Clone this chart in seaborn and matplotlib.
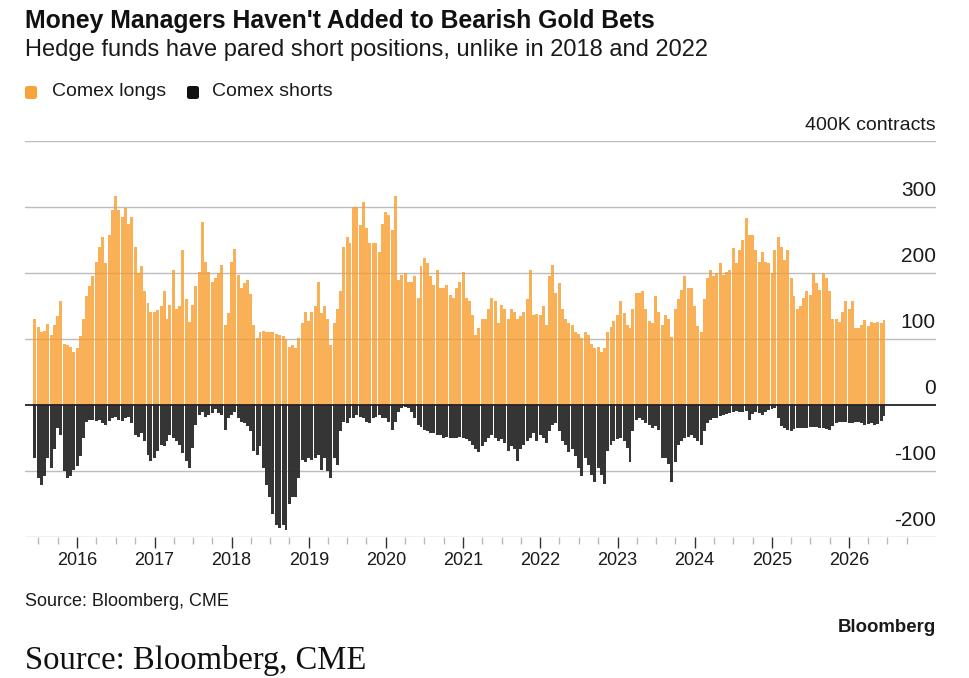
import matplotlib
matplotlib.use("Agg")
import matplotlib.pyplot as plt
import matplotlib.dates as mdates
import matplotlib.transforms as mtransforms
from matplotlib.patches import FancyBboxPatch
import numpy as np
import pandas as pd
import seaborn as sns

# ---------------- data (thousand contracts, semi-monthly readings) ----------------
longs_2015 = [131, 118, 110, 112, 122, 106, 121, 135, 158, 93, 91, 88, 80]
longs_2016 = [86, 105, 131, 165, 180, 195, 217, 240, 255, 215, 258, 295, 316, 295, 285, 298, 275, 285, 240, 200, 210, 172, 155, 141]
longs_2017 = [141, 144, 150, 172, 131, 152, 205, 146, 150, 235, 160, 126, 152, 180, 202, 278, 217, 202, 187, 192, 200, 212, 121, 140]
longs_2018 = [217, 237, 197, 177, 185, 190, 168, 121, 101, 111, 112, 110, 111, 110, 108, 106, 104, 100, 88, 91, 86, 101, 125, 141]
longs_2019 = [128, 141, 150, 187, 140, 150, 131, 91, 125, 146, 172, 240, 255, 245, 300, 300, 273, 308, 268, 245, 245, 245, 232, 275]
longs_2020 = [293, 288, 265, 316, 190, 197, 200, 187, 187, 195, 162, 210, 222, 215, 195, 182, 205, 177, 177, 182, 167, 162, 177, 187]
longs_2021 = [202, 162, 157, 136, 106, 116, 131, 131, 146, 162, 157, 124, 152, 146, 131, 146, 141, 131, 135, 141, 160, 205, 136, 138]
longs_2022 = [136, 150, 121, 195, 212, 170, 185, 145, 131, 125, 121, 111, 108, 101, 111, 106, 92, 86, 88, 81, 86, 111, 118, 128]
longs_2023 = [136, 158, 140, 121, 116, 145, 170, 170, 172, 146, 128, 125, 165, 141, 121, 136, 131, 103, 145, 160, 175, 195, 177, 177]
longs_2024 = [150, 120, 111, 160, 192, 205, 195, 200, 215, 197, 202, 205, 238, 215, 235, 250, 283, 258, 258, 235, 217, 232, 217, 215]
longs_2025 = [200, 235, 255, 240, 220, 235, 192, 165, 146, 150, 162, 172, 167, 200, 185, 175, 200, 192, 172, 131, 130, 126, 141, 157]
longs_2026 = [146, 157, 116, 116, 121, 129, 119, 126, 124, 126, 124, 129]

shorts_2015 = [-81, -111, -121, -108, -81, -96, -66, -35, -45, -100, -111, -108, -98]
shorts_2016 = [-92, -78, -50, -25, -22, -22, -24, -22, -28, -30, -24, -20, -18, -22, -24, -20, -18, -28, -45, -48, -42, -55, -75, -85]
shorts_2017 = [-80, -70, -60, -62, -55, -45, -50, -55, -60, -72, -85, -96, -65, -30, -15, -10, -18, -15, -12, -6, -12, -15, -38, -20]
shorts_2018 = [-15, -10, -20, -25, -28, -32, -40, -70, -75, -62, -96, -121, -140, -165, -182, -187, -182, -189, -150, -140, -140, -111, -84, -86]
shorts_2019 = [-81, -84, -80, -76, -98, -81, -100, -111, -81, -91, -40, -25, -28, -20, -20, -15, -18, -20, -26, -28, -20, -18, -15, -20]
shorts_2020 = [-20, -25, -38, -25, -10, -5, -3, -5, -10, -20, -30, -34, -38, -40, -42, -42, -45, -46, -50, -48, -50, -50, -50, -49]
shorts_2021 = [-50, -52, -55, -60, -66, -71, -62, -56, -50, -46, -50, -55, -52, -58, -70, -62, -66, -85, -66, -61, -55, -50, -42, -55]
shorts_2022 = [-45, -50, -58, -40, -30, -28, -40, -55, -61, -71, -66, -78, -95, -108, -81, -91, -106, -116, -96, -106, -119, -70, -61, -55]
shorts_2023 = [-52, -50, -55, -65, -86, -40, -22, -20, -22, -28, -30, -35, -32, -38, -80, -81, -90, -116, -86, -61, -55, -50, -48, -45]
shorts_2024 = [-50, -55, -60, -40, -28, -22, -20, -20, -16, -15, -14, -12, -10, -9, -10, -10, -9, -22, -14, -11, -12, -15, -10, -8]
shorts_2025 = [-6, -4, -20, -32, -35, -38, -40, -37, -35, -35, -35, -35, -34, -33, -34, -35, -35, -36, -38, -32, -28, -25, -25, -26]
shorts_2026 = [-27, -28, -26, -25, -27, -30, -29, -28, -30, -29, -24, -16]

years = list(range(2016, 2027))
year_labels = [str(y) for y in years]
ytick_values = [-200, -100, 0, 100, 200, 300, 400]
ytick_labels = ["-200", "-100", "0", "100", "200", "300", "400K contracts"]

longs = (longs_2015 + longs_2016 + longs_2017 + longs_2018 + longs_2019 + longs_2020
         + longs_2021 + longs_2022 + longs_2023 + longs_2024 + longs_2025 + longs_2026)
shorts = (shorts_2015 + shorts_2016 + shorts_2017 + shorts_2018 + shorts_2019 + shorts_2020
          + shorts_2021 + shorts_2022 + shorts_2023 + shorts_2024 + shorts_2025 + shorts_2026)
dates = pd.date_range("2015-06-15", periods=len(longs), freq="SMS")
df = pd.DataFrame({"x": mdates.date2num(dates), "longs": longs, "shorts": shorts})

# ---------------- style ----------------
sns.set_theme(style="white")
plt.rcParams["font.family"] = ["Liberation Sans", "DejaVu Sans"]

ORANGE = "#F9B056"
DARK = "#353535"
TXT = "#1a1a1a"

W, H = 969, 678
fig = plt.figure(figsize=(W / 100, H / 100), dpi=100)
fig.patch.set_facecolor("white")

ax_left, ax_right, ax_top, ax_bot = 25, 936, 141, 537
ax = fig.add_axes([ax_left / W, 1 - ax_bot / H, (ax_right - ax_left) / W, (ax_bot - ax_top) / H])

sns.barplot(data=df, x="x", y="longs", native_scale=True, orient="x", color=ORANGE,
            saturation=1, width=1.0, linewidth=0, errorbar=None, ax=ax, zorder=2)
sns.barplot(data=df, x="x", y="shorts", native_scale=True, orient="x", color=DARK,
            saturation=1, width=1.0, linewidth=0, errorbar=None, ax=ax, zorder=2)

ax.set_ylim(-200, 400)
xl = mdates.date2num(pd.Timestamp("2015-04-29"))
xr = mdates.date2num(pd.Timestamp("2027-02-16"))
ax.set_xlim(xl, xr)

for s in ax.spines.values():
    s.set_visible(False)

# gridlines
for v in ytick_values:
    if v == 0:
        continue
    ax.axhline(v, color="#cccccc", lw=1.0, zorder=0)
    ax.axhline(v, color="#000000", lw=1.0, alpha=0.07, zorder=3)
ax.axhline(0, color="#222222", lw=1.3, zorder=4)

ax.set_yticks(ytick_values)
ax.set_yticklabels([])
ax.tick_params(axis="y", length=0)
ax.set_ylabel("")
ax.set_xlabel("")

# y labels drawn above the gridlines at the right edge
offset = mtransforms.offset_copy(ax.get_yaxis_transform(), fig=fig, x=0, y=5, units="points")
for v, lab in zip(ytick_values, ytick_labels):
    size = 14 if v == 400 else 15
    ax.text(1.0, v, lab, transform=offset, ha="right", va="bottom", fontsize=size, color=TXT)

# x ticks
major = [mdates.date2num(pd.Timestamp(f"{y}-01-01")) for y in years]
minor = []
for y in range(2015, 2027):
    for m in (4, 7, 10):
        t = mdates.date2num(pd.Timestamp(f"{y}-{m:02d}-01"))
        if xl < t < xr:
            minor.append(t)
ax.set_xticks(major)
ax.set_xticklabels(year_labels, fontsize=13, color=TXT)
ax.set_xticks(minor, minor=True)
ax.tick_params(axis="x", which="major", length=8, width=1, color="#333333", pad=3, bottom=True)
ax.tick_params(axis="x", which="minor", length=5, width=1, color="#bbbbbb", bottom=True)

# ---------------- texts ----------------
def fy(py):
    return 1 - py / H

fig.text(25 / W, fy(21), "Money Managers Haven't Added to Bearish Gold Bets",
         fontsize=17.8, fontweight="bold", color="#111111", ha="left", va="center")
fig.text(25 / W, fy(50), "Hedge funds have pared short positions, unlike in 2018 and 2022",
         fontsize=17, color=TXT, ha="left", va="center")

# legend
for x0, col, lab, tx in [(25, "#F7A33A", "Comex longs", 52), (187, "#111111", "Comex shorts", 212)]:
    patch = FancyBboxPatch((x0 / W, fy(99)), 12 / W, 13 / H,
                           boxstyle="round,pad=0,rounding_size=0.003",
                           transform=fig.transFigure, facecolor=col, edgecolor="none")
    fig.patches.append(patch)
    fig.text(tx / W, fy(92), lab, fontsize=14, color=TXT, ha="left", va="center")

fig.text(25 / W, fy(602), "Source: Bloomberg, CME", fontsize=13, color=TXT, ha="left", va="center")
fig.text(936 / W, fy(627), "Bloomberg", fontsize=13.4, fontweight="bold", color=TXT,
         ha="right", va="center")
fig.text(25 / W, fy(661), "Source: Bloomberg, CME", fontsize=23.5, color="#111111",
         ha="left", va="center", family=["Liberation Serif", "DejaVu Serif"])

fig.savefig("out.png", dpi=100, facecolor="white")
